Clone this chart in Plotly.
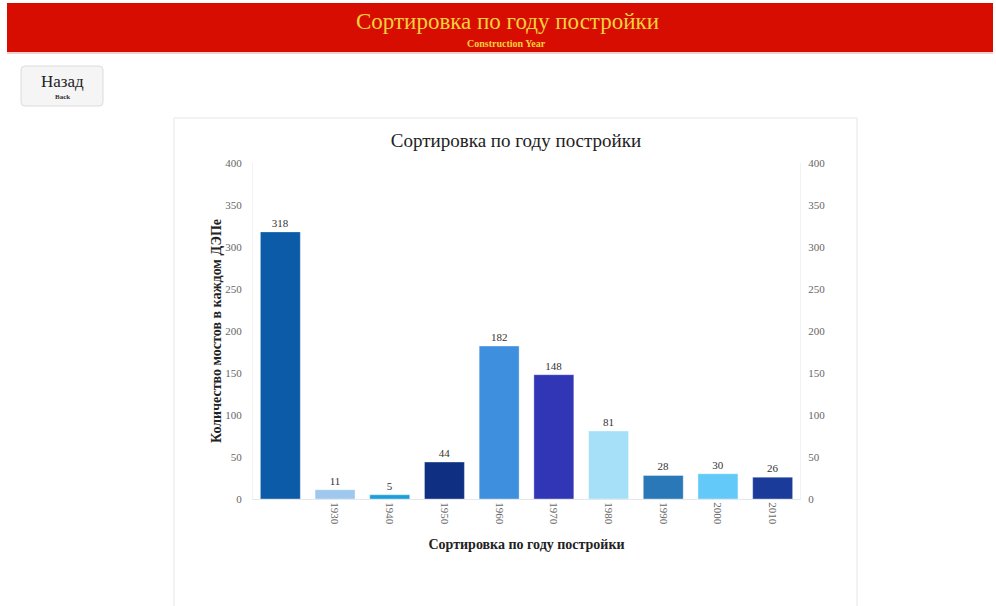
import plotly.graph_objects as go

# Bridge counts by construction decade
categories = [" ", "1930", "1940", "1950", "1960", "1970", "1980", "1990", "2000", "2010"]
counts = [318, 11, 5, 44, 182, 148, 81, 28, 30, 26]
bar_colors = ["#0b5ba9", "#9fc8ef", "#1a9fdc", "#0f2f82", "#3e8fde",
              "#3136b6", "#a6e0f8", "#2a78b8", "#62c9f9", "#1b3b9b"]
y_ticks = [0, 50, 100, 150, 200, 250, 300, 350, 400]

W, H = 996, 606
SERIF = "Liberation Serif, Times New Roman, serif"


def px(x):
    return x / W


def py(y):
    return 1 - y / H


def rounded_rect(x0, y0, x1, y1, r):
    X0, X1 = px(x0), px(x1)
    Y0, Y1 = py(y0), py(y1)
    rx, ry = r / W, r / H
    return (f"M {X0 + rx},{Y0} L {X1 - rx},{Y0} Q {X1},{Y0} {X1},{Y0 - ry} "
            f"L {X1},{Y1 + ry} Q {X1},{Y1} {X1 - rx},{Y1} L {X0 + rx},{Y1} "
            f"Q {X0},{Y1} {X0},{Y1 + ry} L {X0},{Y0 - ry} Q {X0},{Y0} {X0 + rx},{Y0} Z")


def label(text, x, y, size, color, family=SERIF):
    return dict(text=text, x=px(x), y=py(y), xref="paper", yref="paper",
                xanchor="center", yanchor="middle", showarrow=False,
                font=dict(family=family, size=size, color=color))


fig = go.Figure()
fig.add_trace(go.Bar(
    x=categories, y=counts,
    marker=dict(color=bar_colors, line=dict(color="rgba(255,255,255,0.35)", width=1)),
    text=[str(v) for v in counts], textposition="outside",
    textfont=dict(family=SERIF, size=11, color="#333333"),
    cliponaxis=False, hoverinfo="x+y", showlegend=False,
))
# mirror trace for the right-hand axis
fig.add_trace(go.Bar(x=categories, y=counts, yaxis="y2", opacity=0,
                     hoverinfo="skip", showlegend=False))

shapes = [
    # header band
    dict(type="rect", xref="paper", yref="paper", x0=px(7), x1=px(993), y0=py(52), y1=py(3),
         fillcolor="#d80d01", line=dict(width=0), layer="below"),
    dict(type="rect", xref="paper", yref="paper", x0=px(7), x1=px(993), y0=py(54), y1=py(52),
         fillcolor="#f6d0cc", line=dict(width=0), layer="below"),
    # back button
    dict(type="path", xref="paper", yref="paper", path=rounded_rect(21, 66, 103, 106, 4),
         fillcolor="#f5f5f5", line=dict(color="#dcdcdc", width=1), layer="below"),
    # chart card
    dict(type="rect", xref="paper", yref="paper", x0=px(174), x1=px(857), y0=py(612), y1=py(118),
         fillcolor="white", line=dict(color="#e6e6e6", width=1), layer="below"),
]

annotations = [
    label("Сортировка по году постройки", 507, 22, 23, "#f6d23c"),
    label("<b>Construction Year</b>", 506, 44, 10, "#f6d23c"),
    label("Назад", 62, 81, 17, "#222222"),
    label("<b>Back</b>", 62, 97, 7, "#333333"),
]

axis_font = dict(family=SERIF, size=11, color="#666666")

fig.update_layout(
    template="none",
    width=W, height=H,
    margin=dict(l=0, r=0, t=0, b=0, autoexpand=False),
    paper_bgcolor="white", plot_bgcolor="white",
    shapes=shapes, annotations=annotations,
    bargap=0.27, barmode="overlay",
    title=dict(text="Сортировка по году постройки", x=px(516), y=py(140),
               xref="paper", yref="paper", xanchor="center", yanchor="middle",
               font=dict(family=SERIF, size=19, color="#222222")),
    xaxis=dict(
        domain=[px(253), px(800)], type="category", automargin=False,
        tickangle=90, tickfont=axis_font, showgrid=False, zeroline=False,
        showline=True, linecolor="#e4e8ee", linewidth=1, ticks="",
        title=dict(text="<b>Сортировка по году постройки</b>",
                   font=dict(family=SERIF, size=14, color="#222222"), standoff=15),
    ),
    yaxis=dict(
        domain=[py(499), py(163)], range=[0, 400], tickvals=y_ticks, automargin=False,
        tickfont=axis_font, showgrid=False, zeroline=False,
        showline=True, linecolor="#f2f2f2", ticks="", ticklabelstandoff=8,
        title=dict(text="<b>Количество мостов в каждом ДЭПе</b>",
                   font=dict(family=SERIF, size=14, color="#222222"), standoff=0),
    ),
    yaxis2=dict(
        overlaying="y", side="right", range=[0, 400], tickvals=y_ticks, automargin=False,
        tickfont=axis_font, showgrid=False, zeroline=False,
        showline=True, linecolor="#f2f2f2", ticks="", ticklabelstandoff=5,
    ),
)

fig.write_html("out.html")
